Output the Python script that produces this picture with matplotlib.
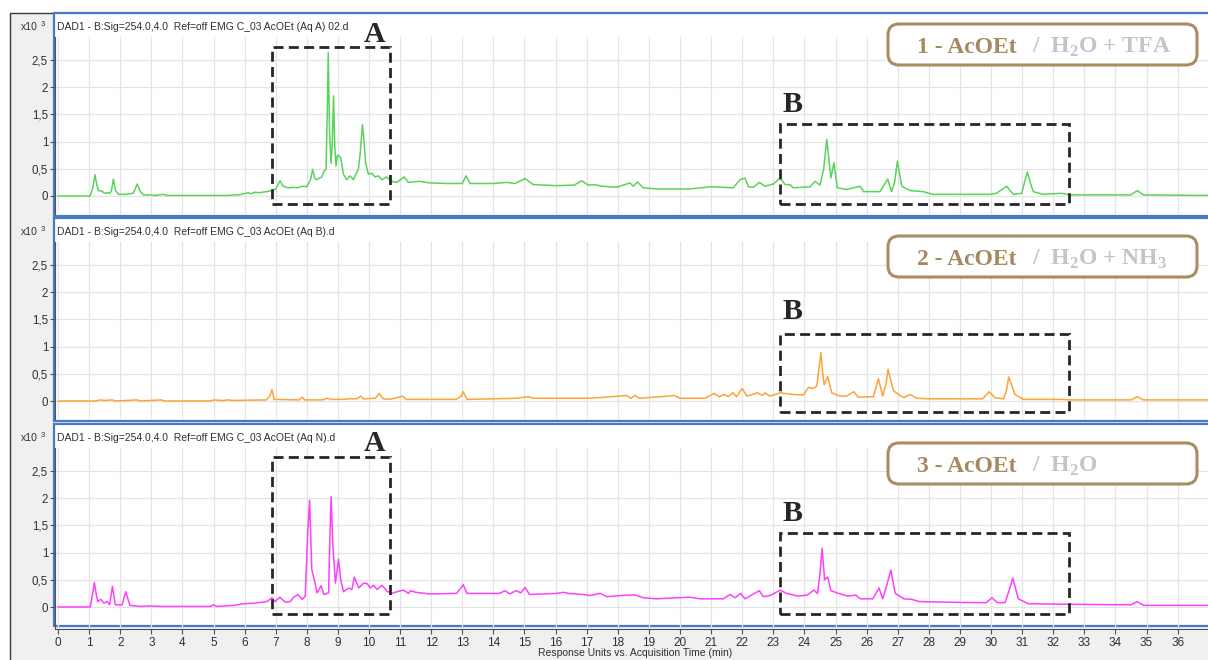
import numpy as np
import matplotlib.pyplot as plt
from matplotlib.patches import Rectangle, FancyBboxPatch

plt.rcParams['font.family'] = ['Liberation Sans', 'DejaVu Sans']
plt.rcParams['mathtext.fontset'] = 'custom'
plt.rcParams['mathtext.rm'] = 'Liberation Serif:bold'
plt.rcParams['mathtext.bf'] = 'Liberation Serif:bold'

# chromatograms: (time min, signal x10^3)
aq_a = [(0, 0.0), (1.03, 0.0), (1.12, 0.15), (1.19, 0.39), (1.25, 0.2), (1.3, 0.1), (1.41, 0.09),
        (1.5, 0.05), (1.6, 0.06), (1.67, 0.05), (1.72, 0.1), (1.78, 0.31), (1.85, 0.1), (1.95, 0.03),
        (2.2, 0.03), (2.42, 0.05), (2.55, 0.22), (2.65, 0.08), (2.75, 0.02), (3.01, 0.02), (3.1, 0.01),
        (3.39, 0.03), (3.5, 0.01), (5.5, 0.01), (5.64, 0.02), (5.8, 0.02), (6.12, 0.06), (6.2, 0.04),
        (6.33, 0.07), (6.45, 0.06), (6.71, 0.08), (6.87, 0.1), (7.0, 0.13), (7.14, 0.28), (7.24, 0.18),
        (7.4, 0.15), (7.57, 0.16), (7.7, 0.15), (7.84, 0.18), (8.0, 0.17), (8.12, 0.3), (8.19, 0.49),
        (8.26, 0.32), (8.32, 0.3), (8.48, 0.35), (8.55, 0.45), (8.62, 0.5), (8.66, 1.6), (8.69, 2.64),
        (8.73, 1.2), (8.78, 0.6), (8.82, 1.0), (8.86, 1.84), (8.9, 0.9), (8.94, 0.55), (8.98, 0.74),
        (9.02, 0.75), (9.09, 0.7), (9.18, 0.4), (9.28, 0.3), (9.39, 0.37), (9.5, 0.3), (9.66, 0.5),
        (9.72, 0.8), (9.79, 1.31), (9.84, 1.0), (9.89, 0.6), (9.98, 0.4), (10.09, 0.42), (10.19, 0.35),
        (10.3, 0.37), (10.41, 0.3), (10.57, 0.35), (10.73, 0.27), (10.89, 0.25), (11.13, 0.35),
        (11.27, 0.25), (11.45, 0.26), (11.62, 0.27), (11.96, 0.24), (12.5, 0.23), (13.0, 0.23),
        (13.12, 0.37), (13.25, 0.23), (14.0, 0.23), (14.43, 0.25), (14.7, 0.23), (15.02, 0.32),
        (15.28, 0.21), (16.03, 0.19), (16.6, 0.2), (16.84, 0.28), (17.05, 0.2), (17.24, 0.21),
        (17.5, 0.18), (17.96, 0.16), (18.39, 0.24), (18.5, 0.18), (18.63, 0.26), (18.82, 0.15),
        (19.25, 0.13), (20.32, 0.13), (21.02, 0.17), (21.71, 0.15), (21.93, 0.3), (22.09, 0.33),
        (22.2, 0.17), (22.36, 0.16), (22.55, 0.25), (22.73, 0.18), (23.0, 0.22), (23.22, 0.33),
        (23.38, 0.21), (23.54, 0.21), (23.64, 0.15), (24.18, 0.17), (24.34, 0.27), (24.5, 0.2),
        (24.62, 0.5), (24.72, 1.04), (24.8, 0.6), (24.85, 0.33), (24.95, 0.61), (25.06, 0.15),
        (25.36, 0.12), (25.57, 0.15), (25.79, 0.18), (25.9, 0.08), (26.43, 0.08), (26.68, 0.31),
        (26.8, 0.08), (26.9, 0.25), (26.99, 0.64), (27.13, 0.18), (27.4, 0.1), (27.82, 0.08),
        (28.14, 0.03), (29.97, 0.03), (30.18, 0.05), (30.5, 0.18), (30.72, 0.03), (30.99, 0.05),
        (31.1, 0.3), (31.17, 0.44), (31.26, 0.25), (31.36, 0.08), (31.68, 0.03), (32.27, 0.05),
        (32.54, 0.02), (33.5, 0.02), (34.5, 0.02), (34.7, 0.1), (34.9, 0.02), (37.0, 0.01)]

aq_b = [(0, 0.0), (1.2, 0.0), (1.36, 0.02), (1.5, 0.01), (1.74, 0.02), (1.85, 0.0), (2.54, 0.02),
        (2.65, 0.0), (3.32, 0.02), (3.42, 0.0), (4.9, 0.0), (5.0, 0.02), (5.3, 0.01), (5.49, 0.02),
        (5.6, 0.01), (6.7, 0.02), (6.82, 0.1), (6.88, 0.21), (6.95, 0.03), (7.75, 0.02), (7.85, 0.07),
        (7.93, 0.02), (8.5, 0.02), (8.65, 0.05), (8.8, 0.03), (9.1, 0.03), (9.4, 0.04), (9.6, 0.04),
        (9.74, 0.09), (9.82, 0.04), (10.2, 0.05), (10.33, 0.14), (10.45, 0.04), (10.68, 0.03),
        (11.08, 0.09), (11.2, 0.03), (12.8, 0.03), (12.95, 0.08), (13.03, 0.17), (13.15, 0.03),
        (14.75, 0.05), (15.12, 0.08), (15.3, 0.05), (15.71, 0.05), (17.1, 0.05), (18.3, 0.1),
        (18.42, 0.05), (18.55, 0.1), (18.7, 0.05), (19.83, 0.1), (20.0, 0.05), (20.8, 0.05),
        (21.1, 0.14), (21.25, 0.08), (21.43, 0.12), (21.55, 0.08), (21.7, 0.15), (21.82, 0.08),
        (22.0, 0.23), (22.15, 0.09), (22.5, 0.15), (22.65, 0.1), (22.73, 0.15), (22.89, 0.09),
        (23.22, 0.15), (23.64, 0.12), (23.97, 0.11), (24.13, 0.25), (24.29, 0.23), (24.4, 0.28),
        (24.47, 0.6), (24.53, 0.89), (24.6, 0.45), (24.64, 0.3), (24.75, 0.45), (24.88, 0.15),
        (25.14, 0.09), (25.36, 0.09), (25.59, 0.17), (25.73, 0.07), (26.22, 0.08), (26.38, 0.41),
        (26.52, 0.09), (26.62, 0.3), (26.69, 0.58), (26.86, 0.19), (27.18, 0.06), (27.4, 0.12),
        (27.61, 0.05), (28.03, 0.04), (29.0, 0.04), (29.73, 0.04), (29.94, 0.17), (30.13, 0.06),
        (30.4, 0.04), (30.5, 0.2), (30.57, 0.44), (30.77, 0.12), (31.04, 0.03), (32.22, 0.03),
        (32.54, 0.02), (34.5, 0.02), (34.7, 0.08), (34.9, 0.02), (37.0, 0.02)]

aq_n = [(0, 0.0), (1.04, 0.0), (1.1, 0.2), (1.17, 0.45), (1.24, 0.2), (1.28, 0.1), (1.38, 0.14),
        (1.48, 0.07), (1.58, 0.1), (1.66, 0.04), (1.75, 0.38), (1.84, 0.04), (2.06, 0.04), (2.18, 0.28),
        (2.31, 0.03), (2.65, 0.01), (2.97, 0.02), (3.3, 0.01), (4.9, 0.01), (5.0, 0.04), (5.1, 0.01),
        (5.65, 0.03), (5.97, 0.06), (6.3, 0.07), (6.72, 0.1), (6.88, 0.17), (6.98, 0.1), (7.13, 0.18),
        (7.31, 0.09), (7.47, 0.1), (7.58, 0.18), (7.72, 0.23), (7.85, 0.14), (7.95, 0.2), (8.03, 1.36),
        (8.09, 1.96), (8.16, 0.69), (8.24, 0.5), (8.33, 0.26), (8.46, 0.39), (8.55, 0.23), (8.7, 0.26),
        (8.74, 1.2), (8.78, 2.03), (8.84, 1.12), (8.92, 0.44), (9.02, 0.88), (9.09, 0.5), (9.18, 0.28),
        (9.35, 0.35), (9.45, 0.32), (9.53, 0.55), (9.67, 0.35), (9.83, 0.44), (9.94, 0.43),
        (10.04, 0.35), (10.15, 0.4), (10.26, 0.32), (10.42, 0.4), (10.58, 0.29), (10.74, 0.25),
        (10.95, 0.29), (11.11, 0.31), (11.27, 0.25), (11.34, 0.3), (11.5, 0.27), (11.96, 0.24),
        (12.82, 0.25), (13.03, 0.41), (13.15, 0.25), (14.2, 0.25), (14.37, 0.3), (14.53, 0.24),
        (14.73, 0.3), (14.88, 0.26), (15.02, 0.36), (15.16, 0.23), (16.03, 0.25), (16.25, 0.27),
        (16.41, 0.25), (16.89, 0.23), (17.1, 0.21), (17.43, 0.25), (17.65, 0.19), (18.29, 0.22),
        (18.55, 0.22), (18.82, 0.17), (19.25, 0.15), (19.9, 0.17), (20.32, 0.18), (20.65, 0.15),
        (21.39, 0.15), (21.61, 0.23), (21.77, 0.17), (21.95, 0.25), (22.09, 0.15), (22.55, 0.3),
        (22.68, 0.19), (22.9, 0.21), (23.22, 0.31), (23.43, 0.25), (23.8, 0.2), (24.1, 0.22),
        (24.3, 0.31), (24.42, 0.25), (24.5, 0.6), (24.57, 1.08), (24.65, 0.5), (24.75, 0.55),
        (24.85, 0.3), (25.1, 0.25), (25.4, 0.2), (25.65, 0.22), (25.8, 0.15), (26.2, 0.15),
        (26.4, 0.35), (26.52, 0.15), (26.65, 0.4), (26.78, 0.68), (26.92, 0.25), (27.2, 0.15),
        (27.45, 0.14), (27.7, 0.1), (28.5, 0.09), (29.5, 0.08), (29.85, 0.08), (30.03, 0.17),
        (30.2, 0.08), (30.45, 0.08), (30.58, 0.3), (30.7, 0.53), (30.88, 0.15), (31.2, 0.06),
        (32.5, 0.05), (34.5, 0.04), (34.7, 0.1), (34.9, 0.03), (37.0, 0.03)]

headers = ['DAD1 - B:Sig=254.0,4.0  Ref=off EMG C_03 AcOEt (Aq A) 02.d',
           'DAD1 - B:Sig=254.0,4.0  Ref=off EMG C_03 AcOEt (Aq B).d',
           'DAD1 - B:Sig=254.0,4.0  Ref=off EMG C_03 AcOEt (Aq N).d']
organic_labels = ['1 - AcOEt', '2 - AcOEt', '3 - AcOEt']
aqueous_labels = [r'/  H$_2$O + TFA', r'/  H$_2$O + NH$_3$', r'/  H$_2$O']
trace_colors = ['#5ad35a', '#ffa237', '#ff3fff']
y_ticks = [0, 0.5, 1, 1.5, 2, 2.5]
y_tick_labels = ['0', '0,5', '1', '1,5', '2', '2,5']
x_ticks = list(range(0, 37))

# highlighted regions: (t start, t end, y low, y high)
region_a = {0: (6.88, 10.68, -0.15, 2.74), 2: (6.88, 10.68, -0.13, 2.76)}
region_b = {0: (23.2, 32.52, -0.14, 1.32), 1: (23.2, 32.52, -0.21, 1.24), 2: (23.2, 32.52, -0.13, 1.36)}
letter_a_y = {0: 2.84, 2: 2.86}
letter_b_y = {0: 1.55, 1: 1.50, 2: 1.59}

fig = plt.figure(figsize=(12.08, 6.6), dpi=100)
inch = fig.dpi_scale_trans


def px(x, y):
    # pixel position (from top-left) to inches for dpi_scale_trans
    return x / 100, (660 - y) / 100


fig.add_artist(Rectangle((0.1, -0.1), 12.1, 6.57, transform=inch, facecolor='#f0f0f0',
                         edgecolor='#3a3a3a', lw=1.0, zorder=-3))

box_tops = [13, 218, 424]
box_bottoms = [216, 421, 626]
label_tops = [24, 236, 443]
scale = 54.4  # px per 1 unit of signal
ticks_font = dict(fontsize=8.3, color='#303030')

for i, series in enumerate([aq_a, aq_b, aq_n]):
    t, y = np.array(series).T
    bt, bb = box_tops[i], box_bottoms[i]
    fig.add_artist(Rectangle(px(54, bb), 11.6, (bb - bt) / 100, transform=inch, facecolor='white',
                             edgecolor='#4a78c8', lw=1.6, zorder=-2))
    at = bt + 24
    ab = 629 if i == 2 else bb - 2
    zero = at + 159
    ax = fig.add_axes([55 / 1208, 1 - ab / 660, 1 - 55 / 1208, (ab - at) / 660])
    ax.set_facecolor('none')
    ax.set_xlim((55 - 58) / 31.1, (1208 - 58) / 31.1)
    ax.set_ylim((zero - ab) / scale, (zero - at) / scale)
    ax.plot(t, y, color=trace_colors[i], lw=1.1, zorder=3)

    ax.set_xticks(x_ticks)
    ax.set_yticks(y_ticks)
    ax.set_yticklabels(y_tick_labels, **ticks_font)
    ax.grid(True, color='#e4e4e4', lw=0.9)
    ax.set_axisbelow(True)
    for s in ['top', 'right']:
        ax.spines[s].set_visible(False)
    ax.spines['left'].set_color('#505050')
    ax.tick_params(axis='y', length=3.5, width=0.8, color='#505050', pad=1.5)
    if i == 2:
        ax.spines['bottom'].set_color('#505050')
        ax.set_xticklabels([str(v) for v in x_ticks], fontsize=8.5, color='#303030')
        ax.tick_params(axis='x', length=3.5, width=0.8, color='#505050', pad=2)
    else:
        ax.spines['bottom'].set_visible(False)
        ax.tick_params(axis='x', length=0, labelbottom=False)

    # header line and exponent
    fig.text(*px(57, at - 10), headers[i], transform=inch, va='center', fontsize=7.5, color='#303030')
    fig.text(*px(21, at - 10), 'x10', transform=inch, va='center', fontsize=7.5, color='#303030')
    fig.text(*px(41, at - 12.5), '3', transform=inch, va='center', fontsize=5.5, color='#303030')

    # dashed regions and letters
    dash = dict(fill=False, ls=(0, (3.6, 1.9)), lw=2.0, edgecolor='#262626', clip_on=False, zorder=4)
    if i in region_a:
        t0, t1, y0, y1 = region_a[i]
        ax.add_patch(Rectangle((t0, y0), t1 - t0, y1 - y0, **dash))
        ax.text(10.19, letter_a_y[i], 'A', family='Liberation Serif', weight='bold', fontsize=21.5,
                color='#262626', ha='center', va='baseline', clip_on=False, zorder=5)
    t0, t1, y0, y1 = region_b[i]
    ax.add_patch(Rectangle((t0, y0), t1 - t0, y1 - y0, **dash))
    ax.text(23.63, letter_b_y[i], 'B', family='Liberation Serif', weight='bold', fontsize=21.5,
            color='#262626', ha='center', va='baseline', clip_on=False, zorder=5)

    # solvent label box
    lt = label_tops[i]
    fig.add_artist(FancyBboxPatch(px(888, lt + 41), 3.09, 0.41, transform=inch,
                                  boxstyle='round,pad=0,rounding_size=0.11', facecolor='white',
                                  edgecolor='#a98c62', lw=2.2, zorder=6))
    fig.text(*px(917, lt + 29), organic_labels[i], transform=inch, family='Liberation Serif',
             weight='bold', fontsize=17, color='#a68a5f', va='baseline', zorder=7)
    fig.text(*px(1032, lt + 29), aqueous_labels[i], transform=inch, family='Liberation Serif',
             weight='bold', fontsize=17, color='#c4c4c4', va='baseline', zorder=7)

fig.text(*px(635, 653), 'Response Units vs. Acquisition Time (min)', transform=inch,
         ha='center', va='center', fontsize=7.5, color='#303030')

fig.savefig('out.png', dpi=100)
